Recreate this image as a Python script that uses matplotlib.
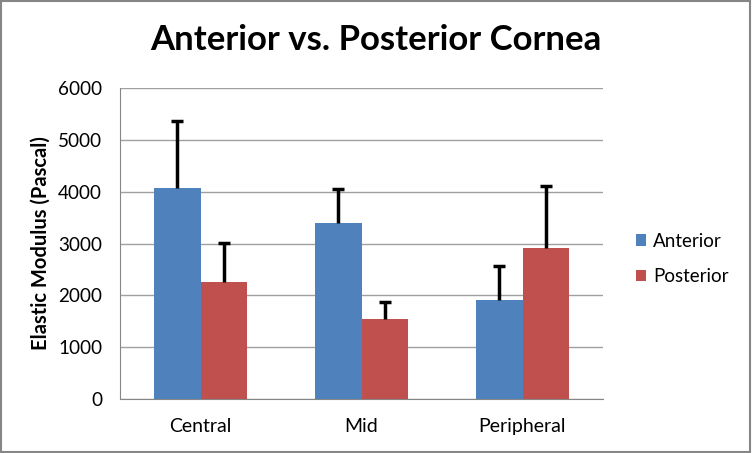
import numpy as np
import matplotlib.pyplot as plt

# values
categories = ['Central', 'Mid', 'Peripheral']
anterior = [4065, 3390, 1910]
anterior_err = [1290, 660, 655]
posterior = [2250, 1550, 2905]
posterior_err = [755, 315, 1200]

plt.rcParams['font.family'] = ['Lato', 'DejaVu Sans']

fig = plt.figure(figsize=(7.52, 4.53), dpi=100)
ax = fig.add_axes([120/752, 54/453, 483/752, 311/453])

x = np.arange(len(categories))
w = 0.286
ekw = dict(ecolor='black', elinewidth=2.5, capsize=4.5, capthick=2.5)
b1 = ax.bar(x - w/2, anterior, w, color='#4F81BD', label='Anterior',
            yerr=[np.zeros(3), anterior_err], error_kw=ekw, zorder=3)
b2 = ax.bar(x + w/2, posterior, w, color='#C0504D', label='Posterior',
            yerr=[np.zeros(3), posterior_err], error_kw=ekw, zorder=3)
# only the upper half of the error bars, hide the lower caps
for b in (b1, b2):
    b.errorbar.lines[1][0].set_visible(False)

ax.set_xlim(-0.5, 2.5)
ax.set_ylim(0, 6000)
ax.set_yticks(np.arange(0, 6001, 1000))
ax.set_xticks(x)
ax.set_xticklabels(categories, fontsize=14)
ax.tick_params(axis='y', labelsize=13.6, length=0, pad=13)
ax.tick_params(axis='x', length=0, pad=13.5)
ax.yaxis.grid(True, color='#A0A0A0', linewidth=1, zorder=0)
for s in ['top', 'right']:
    ax.spines[s].set_visible(False)
for s in ['left', 'bottom']:
    ax.spines[s].set_color('#868686')
ax.set_ylabel('Elastic Modulus (Pascal)', fontsize=14.5, fontweight='bold', labelpad=5)

fig.text(0.5, 1 - 40.5/453, 'Anterior vs. Posterior Cornea', fontsize=25,
         fontweight='bold', ha='center', va='center')

ax.legend(loc='center left', bbox_to_anchor=(1.033, 0.45), frameon=False,
          fontsize=13.5, handlelength=0.55, handleheight=0.55, labelspacing=1.0,
          handletextpad=0.37)

fig.patches.append(plt.Rectangle((0.001, 0.002), 0.997, 0.996, transform=fig.transFigure,
                                 fill=False, edgecolor='#868686', linewidth=1.5))

fig.savefig('out.png', dpi=100)
